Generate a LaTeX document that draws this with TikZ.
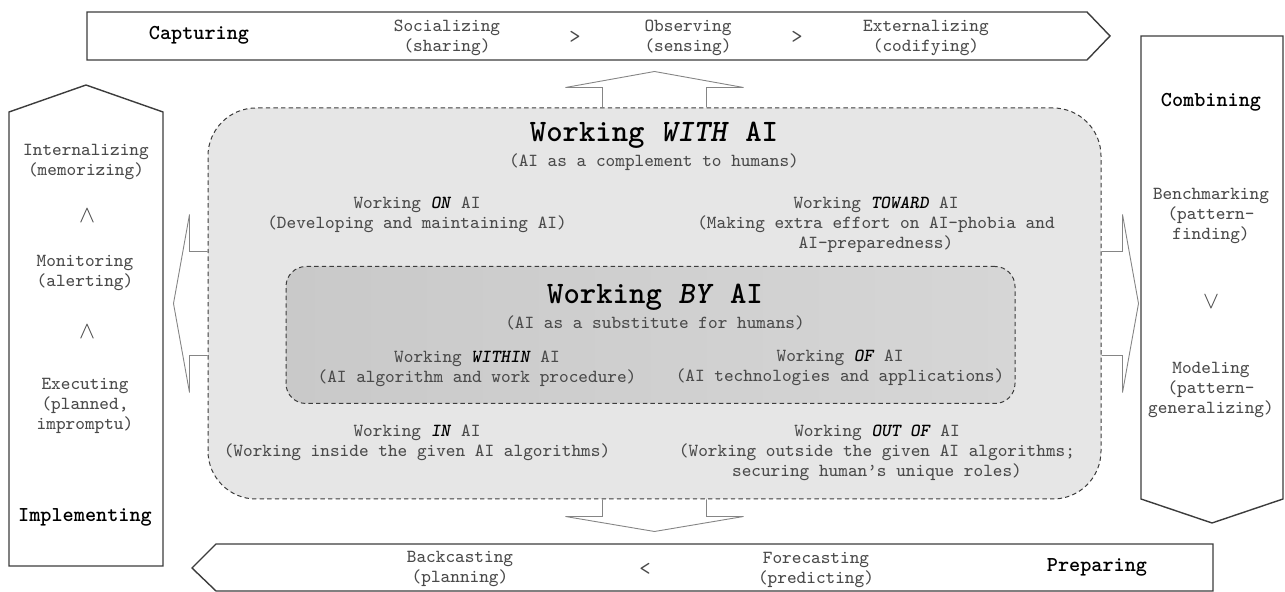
\documentclass[tikz,border=0pt]{standalone}

\definecolor{txtgray}{HTML}{4A4A4A}
\definecolor{linegray}{HTML}{3C3C3C}
\definecolor{arrgray}{HTML}{858585}
\definecolor{outerfill}{HTML}{E6E6E6}
\definecolor{innerleft}{HTML}{C9C9C9}
\definecolor{innerright}{HTML}{D6D6D6}

\newcommand{\kw}[1]{\textcolor{black}{\textbf{\textit{#1}}}}

\begin{document}
\begin{tikzpicture}[x=0.5pt, y=-0.5pt,
  txt/.style={font=\ttfamily\fontsize{9.2}{10}\selectfont, text=txtgray, align=center, inner sep=0pt},
  sym/.style={font=\fontsize{12}{12}\selectfont, text=txtgray, inner sep=0pt},
  order/.style={font=\ttfamily\fontsize{11}{11}\selectfont, text=txtgray, inner sep=0pt},
  stage/.style={font=\ttfamily\fontsize{10.6}{11}\selectfont\bfseries, text=black, inner sep=0pt},
  heading/.style={font=\ttfamily\fontsize{15.6}{16}\selectfont\bfseries, text=black, inner sep=0pt},
  panel/.style={draw=linegray, line width=0.7pt, fill=white, line join=miter},
  area/.style={draw=linegray, line width=0.5pt, dash pattern=on 2.2pt off 1.6pt, rectangle, inner sep=0pt},
  blockarrow/.style={draw=arrgray, line width=0.45pt}
]
  \useasboundingbox (0,0) rectangle (1285,592);

  % stage panels
  \draw[panel] (87,12) -- (1087,12) -- (1110,36) -- (1087,60) -- (87,60) -- cycle;
  \draw[panel] (1141,36) -- (1283,36) -- (1283,499) -- (1212,523) -- (1141,499) -- cycle;
  \draw[panel] (216,544) -- (1213,544) -- (1213,591) -- (216,591) -- (192,568) -- cycle;
  \draw[panel] (9,112) -- (86,85) -- (163,112) -- (163,566) -- (9,566) -- cycle;

  % working areas
  \node[area, fill=outerfill, rounded corners=24pt, minimum width=446.5pt, minimum height=195.5pt] (withAI) at (654.5,303.5) {};
  \node[area, left color=innerleft, right color=innerright, rounded corners=10pt, minimum width=364.5pt, minimum height=68.5pt] (byAI) at (650.5,335) {};

  % block arrows from the outer area
  \draw[blockarrow] ([xshift=-26pt]withAI.north) -- ++(0,-20) -- ++(-37,0) -- ([yshift=18pt]withAI.north)
    -- ([xshift=44.5pt,yshift=10pt]withAI.north) -- ++(-37,0) -- ([xshift=26pt]withAI.north);
  \draw[blockarrow] ([xshift=-26pt]withAI.south) -- ++(0,17) -- ++(-37,0) -- ([yshift=-16pt]withAI.south)
    -- ([xshift=44.5pt,yshift=-8.5pt]withAI.south) -- ++(-37,0) -- ([xshift=26pt]withAI.south);
  \draw[blockarrow] ([yshift=26pt]withAI.west) -- ++(-18,0) -- ++(0,-37) -- ([xshift=-17pt]withAI.west)
    -- ([xshift=-9pt,yshift=-44.5pt]withAI.west) -- ++(0,-37) -- ([yshift=-26pt]withAI.west);
  \draw[blockarrow] ([yshift=26pt]withAI.east) -- ++(21,0) -- ++(0,-37) -- ([xshift=18.5pt]withAI.east)
    -- ([xshift=10.5pt,yshift=-44.5pt]withAI.east) -- ++(0,-37) -- ([yshift=-26pt]withAI.east);

  % capturing
  \node[stage] (capturing) at (199,35) {Capturing};
  \node[txt] (socializing) at (447,38) {Socializing\\(sharing)};
  \node[order] (gt1) at (575,37) {>};
  \node[txt] (observing) at (688,38) {Observing\\(sensing)};
  \node[order] (gt2) at (797,37) {>};
  \node[txt] (externalizing) at (926,38) {Externalizing\\(codifying)};

  % combining
  \node[stage] (combining) at (1211,102) {Combining};
  \node[txt] (benchmarking) at (1211,216) {Benchmarking\\(pattern-\\finding)};
  \node[sym] (vee) at (1211,302) {$\vee$};
  \node[txt] (modeling) at (1211,390) {Modeling\\(pattern-\\generalizing)};

  % preparing
  \node[txt] (backcasting) at (460,569) {Backcasting\\(planning)};
  \node[order] (lt) at (645,569) {<};
  \node[txt] (forecasting) at (816,570) {Forecasting\\(predicting)};
  \node[stage] (preparing) at (1097,567) {Preparing};

  % implementing
  \node[txt] (internalizing) at (86,162) {Internalizing\\(memorizing)};
  \node[sym] (wedge1) at (87,216) {$\wedge$};
  \node[txt] (monitoring) at (85,273) {Monitoring\\(alerting)};
  \node[sym] (wedge2) at (87,332) {$\wedge$};
  \node[txt] (executing) at (85,406) {Executing\\(planned,\\impromptu)};
  \node[stage] (implementing) at (85,517) {Implementing};

  % working with AI
  \node[heading] (withtitle) at (654,135) {Working \textit{WITH} AI};
  \node[txt] (withsub) at (654,162) {(AI as a complement to humans)};
  \node[txt] (onAI) at (417,215) {Working \kw{ON} AI\\(Developing and maintaining AI)};
  \node[txt] (towardAI) at (876,225) {Working \kw{TOWARD} AI\\(Making extra effort on AI-phobia and\\AI-preparedness)};
  \node[txt] (inAI) at (417,443) {Working \kw{IN} AI\\(Working inside the given AI algorithms)};
  \node[txt] (outofAI) at (877,453) {Working \kw{OUT OF} AI\\(Working outside the given AI algorithms;\\securing human’s unique roles)};

  % working by AI
  \node[heading] (bytitle) at (655,297) {Working \textit{BY} AI};
  \node[txt] (bysub) at (655,323) {(AI as a substitute for humans)};
  \node[txt] (withinAI) at (477,369) {Working \kw{WITHIN} AI\\(AI algorithm and work procedure)};
  \node[txt] (ofAI) at (840,368) {Working \kw{OF} AI\\(AI technologies and applications)};
\end{tikzpicture}
\end{document}
